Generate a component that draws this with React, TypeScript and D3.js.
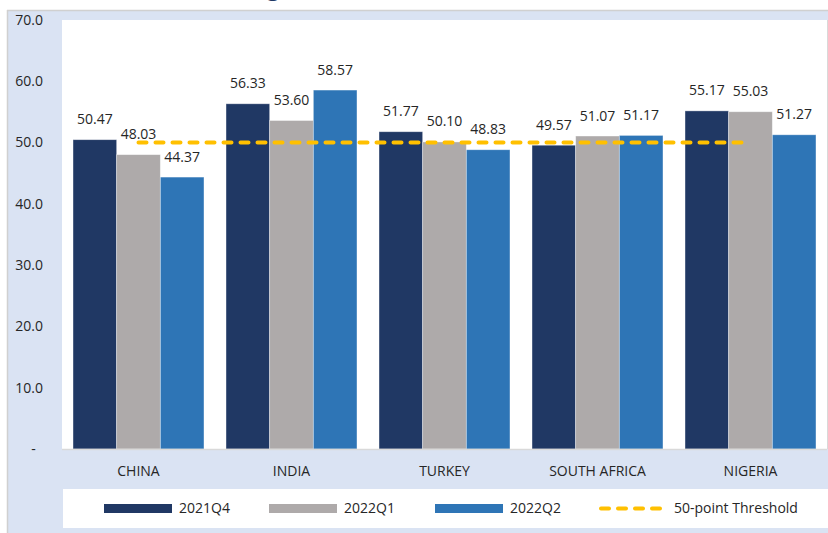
import React from "react";
import * as d3 from "d3";

const categories = ["CHINA", "INDIA", "TURKEY", "SOUTH AFRICA", "NIGERIA"];
const seriesNames = ["2021Q4", "2022Q1", "2022Q2"];
const values2021Q4 = [50.47, 56.33, 51.77, 49.57, 55.17];
const values2022Q1 = [48.03, 53.6, 50.1, 51.07, 55.03];
const values2022Q2 = [44.37, 58.57, 48.83, 51.17, 51.27];
const threshold = [50, 50, 50, 50, 50];
const thresholdName = "50-point Threshold";
const yTicks = [0, 10, 20, 30, 40, 50, 60, 70];
const yTickLabels = ["-\u00a0\u00a0", "10.0", "20.0", "30.0", "40.0", "50.0", "60.0", "70.0"];
const colors = ["#203864", "#aeaaaa", "#2e75b6"];
const thresholdColor = "#ffc000";

const W = 828;
const H = 533;
const FONT = "'Open Sans', sans-serif";
const TEXT = "#262626";
const FS = 14;

export default function App() {
  const plot = { left: 62, right: 827, top: 20, bottom: 449 };
  const seriesValues = [values2021Q4, values2022Q1, values2022Q2];

  const y = d3.scaleLinear().domain([0, 70]).range([plot.bottom, plot.top]);
  const x0 = d3
    .scaleBand<string>()
    .domain(categories)
    .range([plot.left, plot.right])
    .paddingInner(0.144)
    .paddingOuter(0.072);
  const x1 = d3.scaleBand<string>().domain(seriesNames).range([0, x0.bandwidth()]);

  const lineGen = d3
    .line<number>()
    .x((_, i) => (x0(categories[i]) as number) + x0.bandwidth() / 2)
    .y((d) => y(d));

  const legendY = 508.5;
  const legendItems = [
    { x: 104, label: seriesNames[0], color: colors[0], kind: "bar" },
    { x: 269, label: seriesNames[1], color: colors[1], kind: "bar" },
    { x: 435, label: seriesNames[2], color: colors[2], kind: "bar" },
    { x: 599, label: thresholdName, color: thresholdColor, kind: "line" },
  ];

  return (
    <svg
      width={W}
      height={H}
      style={{ position: "absolute", left: 0, top: 0, background: "#fff" }}
      fontFamily={FONT}
    >
      {/* cut-off title descender */}
      <text x={267} y={-4} fontSize={22} fill="#1f3864" fontFamily={FONT} fontWeight={600}>
        g
      </text>
      {/* outer frame */}
      <rect x={7} y={10} width={W - 7} height={H - 10} fill="#dae3f3" />
      <line x1={7} x2={W} y1={10.5} y2={10.5} stroke="#d0d0d0" strokeWidth={1.5} />
      <line x1={7.5} x2={7.5} y1={10} y2={H} stroke="#d0d0d0" strokeWidth={1.5} />
      {/* plot area */}
      <rect x={plot.left} y={plot.top} width={plot.right - plot.left} height={plot.bottom - plot.top} fill="#fff" />
      <line x1={827.5} x2={827.5} y1={plot.top} y2={plot.bottom} stroke="#d9d9d9" strokeWidth={1} />

      {/* y tick labels */}
      {yTicks.map((t, i) => (
        <text
          key={t}
          x={43}
          y={y(t)}
          dy="0.35em"
          textAnchor="end"
          fontSize={FS}
          fill={TEXT}
        >
          {yTickLabels[i]}
        </text>
      ))}

      {/* bars */}
      {categories.map((c, ci) => (
        <g key={c} transform={`translate(${x0(c)},0)`}>
          {seriesNames.map((s, si) => {
            const v = seriesValues[si][ci];
            const bx = x1(s) as number;
            return (
              <g key={s}>
                <rect
                  x={bx}
                  y={y(v)}
                  width={x1.bandwidth()}
                  height={y(0) - y(v)}
                  fill={colors[si]}
                  stroke="#ffffff"
                  strokeOpacity={0.5}
                  strokeWidth={0.75}
                />
                <text
                  x={bx + x1.bandwidth() / 2}
                  y={y(v) - 15.5}
                  textAnchor="middle"
                  fontSize={FS}
                  fill={TEXT}
                >
                  {v.toFixed(2)}
                </text>
              </g>
            );
          })}
        </g>
      ))}

      {/* axis line */}
      <line x1={plot.left} x2={plot.right} y1={plot.bottom + 0.5} y2={plot.bottom + 0.5} stroke="#d9d9d9" strokeWidth={1.5} />

      {/* threshold line */}
      <path
        d={lineGen(threshold) || ""}
        fill="none"
        stroke={thresholdColor}
        strokeWidth={4}
        strokeDasharray="8,9"
        strokeLinecap="round"
      />

      {/* category labels */}
      {categories.map((c) => (
        <text
          key={c}
          x={(x0(c) as number) + x0.bandwidth() / 2}
          y={471}
          dy="0.35em"
          textAnchor="middle"
          fontSize={FS}
          fill={TEXT}
        >
          {c}
        </text>
      ))}

      {/* legend */}
      <rect x={63} y={489} width={W - 63} height={39} fill="#fff" />
      {legendItems.map((it) => (
        <g key={it.label}>
          {it.kind === "bar" ? (
            <rect x={it.x} y={legendY - 4.5} width={68} height={9} fill={it.color} />
          ) : (
            <line
              x1={it.x + 2}
              x2={it.x + 68}
              y1={legendY}
              y2={legendY}
              stroke={it.color}
              strokeWidth={4}
              strokeDasharray="8,9"
              strokeLinecap="round"
            />
          )}
          <text x={it.x + 75} y={legendY} dy="0.35em" fontSize={FS} fill={TEXT}>
            {it.label}
          </text>
        </g>
      ))}
    </svg>
  );
}
